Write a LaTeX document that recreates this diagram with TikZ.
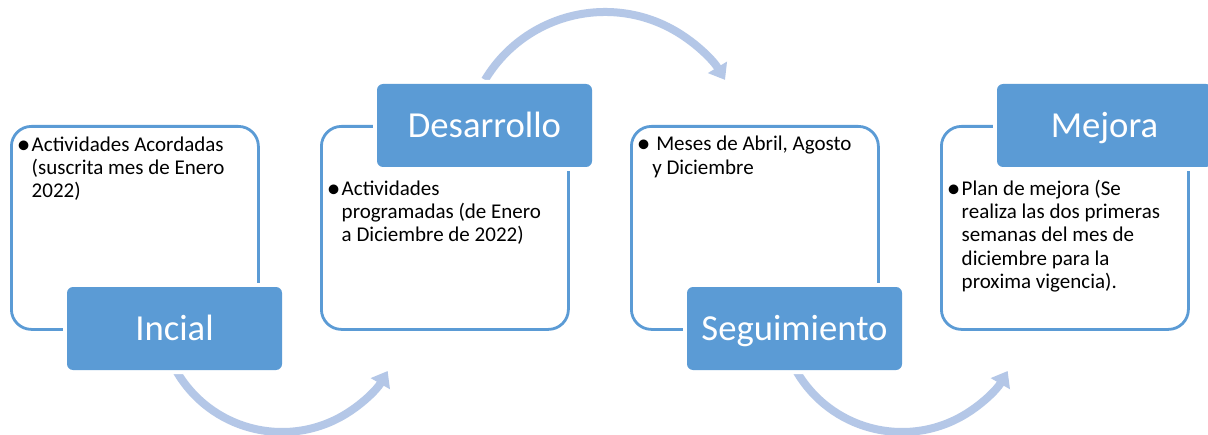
\documentclass[tikz,border=0pt]{standalone}
\usepackage{fontspec}
\usepackage{graphicx}
\setmainfont{Carlito}
\usetikzlibrary{arrows.meta,calc}
\definecolor{accblue}{HTML}{5B9BD5}
\definecolor{arrblue}{HTML}{B4C7E7}
\newcommand\firststrut{\rule{0pt}{13pt}}
\newcommand\bigbul{\makebox[5pt][c]{\raisebox{-1.4pt}{\scalebox{1.3}{•}}}}
\begin{document}
\begin{tikzpicture}[x=0.75pt,y=0.75pt,
  outbox/.style={draw=accblue, line width=2.1pt, rounded corners=15pt, minimum width=185.25pt, minimum height=152.25pt, inner sep=0pt, anchor=north west},
  fillbox/.style={fill=accblue, preaction={draw=white, line width=6pt}, rounded corners=4.5pt, minimum width=161.25pt, minimum height=62.25pt, inner sep=0pt, text=white, font=\fontsize{27.5}{33}\selectfont, text height=17.7pt, text depth=0pt},
  bodytext/.style={anchor=north west, inner sep=0pt, align=left, font=\fontsize{15.75}{17.5}\selectfont},
  flowarrow/.style={draw=arrblue, line width=6pt, -{Triangle[width=16pt,length=11pt]}}
]
\fill[white] (0,0) rectangle (1208,-435);
\useasboundingbox (0,0) rectangle (1208,-435);

% outline boxes
\node[outbox] (b1) at (10,-125) {};
\node[outbox] (b2) at (320,-125) {};
\node[outbox] (b3) at (630,-125) {};
\node[outbox] (b4) at (940,-125) {};

% arrows
\coordinate (a1s) at ($(282,-310)+(210:122)$);
\draw[flowarrow] (a1s) arc[start angle=210, end angle=330, radius=122];
\coordinate (a2s) at ($(605,-152)+(149:140)$);
\draw[flowarrow] (a2s) arc[start angle=149, end angle=31, radius=140];
\coordinate (a3s) at ($(902,-310)+(210:122)$);
\draw[flowarrow] (a3s) arc[start angle=210, end angle=330, radius=122];

% filled label boxes
\node[fillbox] (l1) at (174.5,-328.5) {Incial};
\node[fillbox] (l2) at (484.5,-125.5) {Desarrollo};
\node[fillbox] (l3) at (794.5,-328.5) {Seguimiento};
\node[fillbox] (l4) at (1104.5,-125.5) {Mejora};

% body texts
\node[bodytext] (t1) at (20,-133.67) {\firststrut\makebox[8.6pt][l]{\bigbul}Actividades Acordadas\\\hspace*{8.6pt}(suscrita mes de Enero\\\hspace*{8.6pt}2022)};
\node[bodytext] (t2) at (330,-177.67) {\firststrut\makebox[8.6pt][l]{\bigbul}Actividades\\\hspace*{8.6pt}programadas (de Enero\\\hspace*{8.6pt}a Diciembre de 2022)};
\node[bodytext] (t3) at (640,-133.4) {\firststrut\makebox[9pt][l]{\bigbul}\hspace*{3pt}Meses de Abril, Agosto\\\hspace*{9pt}y Diciembre};
\node[bodytext] (t4) at (950,-177.67) {\firststrut\makebox[8.6pt][l]{\bigbul}Plan de mejora (Se\\\hspace*{8.6pt}realiza las dos primeras\\\hspace*{8.6pt}semanas del mes de\\\hspace*{8.6pt}diciembre para la\\\hspace*{8.6pt}proxima vigencia).};
\end{tikzpicture}
\end{document}
